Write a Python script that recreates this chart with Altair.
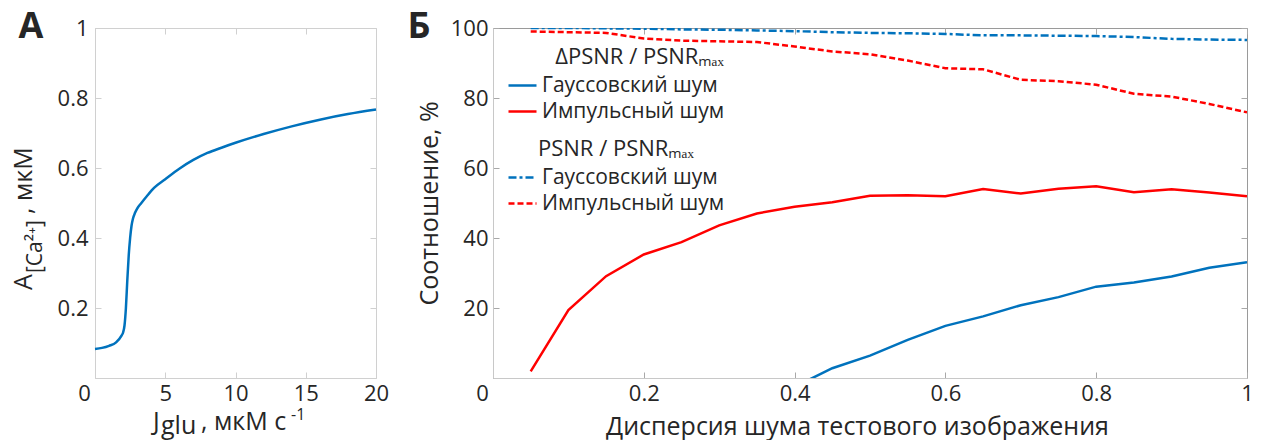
import altair as alt
import pandas as pd

FONT = "Open Sans"
TXT = "#262626"
BLUE = "#0072BD"
RED = "#FF0000"

# ---- Panel A data ----
a_x = [0, 0.5, 1.0, 1.5, 1.9, 2.0, 2.1, 2.2, 2.3, 2.4, 2.5, 2.6, 2.7, 2.85, 3.0, 3.3, 3.7,
       4.2, 5.0, 6.0, 7.0, 8.0, 9.0, 10.0, 12.0, 14.0, 16.0, 18.0, 20.0]
a_y = [0.083, 0.086, 0.092, 0.102, 0.122, 0.13, 0.15, 0.2, 0.28, 0.35, 0.4, 0.435, 0.455, 0.472,
       0.484, 0.5, 0.52, 0.543, 0.568, 0.598, 0.623, 0.643, 0.658, 0.672, 0.697, 0.719, 0.738,
       0.754, 0.767]

# ---- Panel B data ----
b_x = [0.05, 0.1, 0.15, 0.2, 0.25, 0.3, 0.35, 0.4, 0.45, 0.5, 0.55, 0.6, 0.65, 0.7, 0.75,
       0.8, 0.85, 0.9, 0.95, 1.0]
imp_delta = [1.9, 19.4, 29.1, 35.3, 38.8, 43.6, 47.0, 48.9, 50.2, 52.1, 52.2, 51.9, 54.0, 52.7,
             54.1, 54.8, 53.1, 53.9, 53.0, 51.9]
gauss_x = [0.4, 0.45, 0.5, 0.55, 0.6, 0.65, 0.7, 0.75, 0.8, 0.85, 0.9, 0.95, 1.0]
gauss_delta = [-2.5, 2.8, 6.4, 10.9, 14.9, 17.6, 20.8, 23.1, 26.1, 27.3, 29.0, 31.5, 33.1]
gauss_psnr = [100, 100, 99.9, 99.8, 99.6, 99.5, 99.3, 99.1, 98.8, 98.6, 98.5, 98.3, 97.9, 97.9,
              97.8, 97.7, 97.4, 96.9, 96.7, 96.6]
imp_psnr = [99.0, 98.8, 98.6, 97.0, 96.4, 96.2, 96.0, 94.7, 93.3, 92.5, 90.7, 88.5, 88.2, 85.2,
            84.8, 83.8, 81.2, 80.4, 78.3, 75.9]

names = ["Гауссовский шум", "Импульсный шум"]
a_xticks = [0, 5, 10, 15, 20]
a_yticks = [0.2, 0.4, 0.6, 0.8, 1]
b_xticks = [0, 0.2, 0.4, 0.6, 0.8, 1]
b_yticks = [20, 40, 60, 80, 100]

WA, WB, H = 281, 754, 350
TL = 6  # inward tick length

zero_shift = {"condition": {"test": "datum.value === 0", "value": -11}, "value": 0}


def txt(s, x, y, size, weight="normal", angle=0, align="left", baseline="alphabetic"):
    return alt.Chart(pd.DataFrame({"t": [s]})).mark_text(
        font=FONT, fontSize=size, fontWeight=weight, color=TXT, angle=angle,
        align=align, baseline=baseline
    ).encode(x=alt.value(x), y=alt.value(y), text="t:N")


def axis(vals, dash, gridcolor, domcolor, title=None, **kw):
    if title is not None:
        extra = dict(title=title, titleFont=FONT, titleFontSize=25, titleFontWeight="normal",
                     titleColor=TXT)
    else:
        extra = dict(title=None)
    return alt.Axis(values=vals, format="~r", ticks=False, grid=True, labelFlush=False,
                    gridDash=dash, gridColor=gridcolor, gridWidth=1, domainColor=domcolor,
                    labelFont=FONT, labelFontSize=22, labelColor=TXT, **extra, **kw)


# ---- Panel A ----
dfA = pd.DataFrame({"x": a_x, "y": a_y})
lineA = alt.Chart(dfA).mark_line(color=BLUE, strokeWidth=2.5, interpolate="monotone").encode(
    x=alt.X("x:Q", scale=alt.Scale(domain=[0, 20], nice=False),
            axis=axis(a_xticks, [TL, H - 2 * TL, TL, 2000], "#d0d0d0", "#d0d0d0",
                      labelPadding=5, labelOffset=zero_shift)),
    y=alt.Y("y:Q", scale=alt.Scale(domain=[0, 1], nice=False),
            axis=axis(a_yticks, [TL, WA - 2 * TL, TL, 2000], "#d0d0d0", "#d0d0d0",
                      labelPadding=7)),
)
panelA = alt.layer(
    lineA,
    txt("А", -64, 10, 36, weight="bold", align="center"),
    txt("J", 58, 402, 25),
    txt("glu", 66, 406, 25),
    txt(", мкМ с", 106, 402, 25),
    txt("-1", 196, 392, 16),
    txt("A", -63, 262, 25, angle=270),
    txt("[Ca²⁺]", -53, 245, 21, angle=270),
    txt(", мкМ", -63, 186, 25, angle=270),
).properties(width=WA, height=H, view=alt.ViewBackground(stroke="#d0d0d0"))

# ---- Panel B ----
rows_solid = []
for xv, yv in zip(gauss_x, gauss_delta):
    rows_solid.append({"x": xv, "y": yv, "s": names[0]})
for xv, yv in zip(b_x, imp_delta):
    rows_solid.append({"x": xv, "y": yv, "s": names[1]})
rows_dash = []
for xv, yv in zip(b_x, gauss_psnr):
    rows_dash.append({"x": xv, "y": yv, "s": names[0]})
for xv, yv in zip(b_x, imp_psnr):
    rows_dash.append({"x": xv, "y": yv, "s": names[1]})
dfS = pd.DataFrame(rows_solid)
dfD = pd.DataFrame(rows_dash)

xB = alt.X("x:Q", scale=alt.Scale(domain=[0, 1], nice=False),
           axis=axis(b_xticks, [TL, H - 2 * TL, TL, 2000], "#a8a8a8", "#c8c8c8",
                     title="Дисперсия шума тестового изображения",
                     labelPadding=5, labelOffset=zero_shift, titleX=364, titlePadding=10))
yB = alt.Y("y:Q", scale=alt.Scale(domain=[0, 100], nice=False),
           axis=axis(b_yticks, [TL, WB - 2 * TL, TL, 2000], "#a8a8a8", "#c8c8c8",
                     title="Соотношение, %", labelPadding=5, titlePadding=8))

leg_common = dict(orient="none", symbolType="stroke", symbolSize=784, symbolStrokeWidth=2.5,
                  labelFont=FONT, labelFontSize=21, labelColor=TXT, labelLimit=400,
                  titleFont=FONT, titleFontSize=22, titleFontWeight="normal", titleColor=TXT,
                  titleLimit=400, titlePadding=1, labelOffset=4)

solid = alt.Chart(dfS).mark_line(strokeWidth=2.5, clip=True).encode(
    x=xB, y=yB,
    color=alt.Color("s:N", scale=alt.Scale(domain=names, range=[BLUE, RED]),
                    legend=alt.Legend(title="ΔPSNR / PSNRₘₐₓ", legendX=14, legendY=19,
                                      rowPadding=-16, titleAnchor="end", **leg_common)),
)
leg2 = alt.Legend(title="PSNR / PSNRₘₐₓ", legendX=14, legendY=111, rowPadding=-17,
                  titleAnchor="middle", **leg_common)
dashed = alt.Chart(dfD).mark_line(strokeWidth=2.5, clip=True).encode(
    x=xB, y=yB,
    color=alt.Color("s:N", scale=alt.Scale(domain=names, range=[BLUE, RED]), legend=leg2),
    strokeDash=alt.StrokeDash("s:N", scale=alt.Scale(domain=names,
                                                     range=[[8, 3, 3, 3], [6, 3]]),
                              legend=leg2),
)
panelB = alt.layer(
    solid, dashed,
    txt("Б", -74, 10, 36, weight="bold", align="center"),
).resolve_scale(color="independent", strokeDash="independent").properties(
    width=WB, height=H, view=alt.ViewBackground(stroke="#9a9a9a"))

chart = alt.hconcat(panelA, panelB, spacing=17).properties(
    padding={"left": 3, "top": 0, "right": 0, "bottom": 0}
).configure(font=FONT)

chart.save("out.html", embed_options={"renderer": "svg", "actions": False})
